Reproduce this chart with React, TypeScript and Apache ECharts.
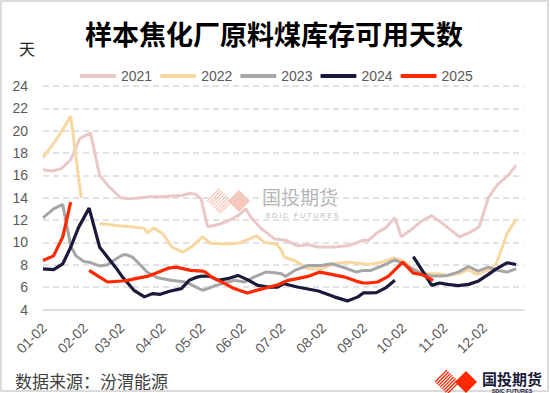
import React, { useEffect, useRef } from 'react';
import * as echarts from 'echarts';

// Month tick labels (day-of-year positions for the 2nd of each month)
const monthLabels = ['01-02', '02-02', '03-02', '04-02', '05-02', '06-02', '07-02', '08-02', '09-02', '10-02', '11-02', '12-02'];
const monthTickDays = [1, 32, 60, 91, 121, 152, 182, 213, 244, 274, 305, 335];

const seriesNames = ['2021', '2022', '2023', '2024', '2025'];

const days2021 = [0, 7, 14, 21, 28, 36, 43, 50, 59, 66, 74, 82, 90, 98, 105, 112, 116, 120, 125, 133, 140, 148, 154, 158, 166, 176, 184, 193, 201, 209, 221, 231, 239, 243, 247, 254, 260, 267, 272, 280, 287, 295, 301, 307, 316, 324, 331, 338, 345, 353, 359];
const vals2021 = [16.5, 16.4, 16.6, 17.4, 19.3, 19.8, 16.0, 15.0, 14.0, 13.9, 14.0, 14.1, 14.1, 14.15, 14.2, 14.4, 14.3, 13.9, 11.4, 11.6, 11.9, 12.4, 13.0, 12.2, 11.2, 10.3, 10.2, 9.7, 9.8, 9.6, 9.6, 9.7, 10.0, 10.2, 10.2, 10.9, 11.3, 12.2, 10.5, 11.2, 11.9, 12.4, 11.9, 11.35, 10.5, 10.9, 11.4, 14.0, 15.2, 16.0, 16.9];

const days2022 = [0, 7, 14, 21, 29, 36, 43, 50, 57, 67, 77, 79, 84, 91, 98, 106, 114, 121, 127, 138, 148, 155, 162, 168, 177, 181, 183, 191, 201, 211, 221, 231, 243, 247, 257, 266, 272, 281, 290, 300, 307, 315, 323, 329, 338, 344, 352, 359];
const vals2022 = [17.6, 18.7, 19.9, 21.3, 14.0, null, 11.7, 11.6, 11.5, 11.4, 11.26, 10.84, 11.29, 10.76, 9.57, 9.13, 9.72, 10.5, 9.93, 9.87, 9.93, 10.22, 10.6, 10.0, 9.87, 9.27, 8.68, 8.38, 7.64, 7.64, 8.09, 8.24, 8.09, 8.03, 8.24, 8.62, 8.44, 7.64, 7.2, 7.2, 7.05, 7.2, 7.56, 7.14, 7.5, 8.09, 10.76, 12.09];

const days2023 = [0, 8, 15, 21, 25, 31, 36, 43, 49, 55, 60, 63, 68, 73, 79, 87, 97, 108, 115, 121, 125, 131, 138, 145, 153, 160, 169, 176, 181, 184, 191, 201, 211, 219, 229, 238, 243, 249, 259, 267, 276, 286, 295, 302, 307, 315, 323, 330, 338, 345, 352, 359];
const vals2023 = [12.2, 13.0, 13.4, 9.7, 8.8, 8.3, 8.2, 7.9, 8.0, 8.5, 8.85, 8.92, 8.68, 8.09, 7.35, 6.84, 6.61, 6.46, 6.07, 5.72, 5.87, 6.16, 6.37, 6.61, 6.46, 6.9, 7.35, 7.29, 7.2, 6.96, 7.5, 7.94, 7.94, 8.09, 7.73, 7.35, 7.5, 7.5, 8.0, 8.44, 7.94, 7.26, 6.99, 7.0, 7.05, 7.35, 7.85, 7.44, 7.79, 7.5, 7.35, 7.64];

const days2024 = [0, 8, 15, 21, 27, 35, 43, 49, 55, 60, 69, 77, 83, 89, 96, 105, 111, 117, 121, 127, 133, 140, 148, 155, 163, 171, 178, 183, 193, 209, 221, 231, 239, 243, 247, 253, 260, 267, 274, 281, 287, 295, 301, 307, 315, 323, 330, 338, 344, 352, 359];
const vals2024 = [7.64, 7.56, 8.09, 9.57, 11.35, 13.07, 9.57, 8.68, 7.79, 6.96, 5.72, 5.13, 5.42, 5.36, 5.63, 5.87, 6.61, 6.9, 7.0, 6.96, 6.61, 6.76, 7.05, 6.67, 6.16, 6.01, 6.01, 6.31, 6.01, 5.66, 5.13, 4.77, 5.13, 5.48, 5.48, 5.51, 5.93, 6.61, null, 8.74, 7.64, 6.16, 6.37, 6.25, 6.13, 6.25, 6.52, 7.14, 7.64, 8.18, 8.03];

const days2025 = [0, 8, 15, 21, 28, 35, 43, 49, 60, 64, 72, 79, 86, 95, 101, 107, 112, 121, 123, 128, 138, 145, 155, 164, 172, 178, 186, 193, 201, 210, 219, 229, 238, 243, 247, 254, 262, 273, 281, 288, 296];
const vals2025 = [8.39, 8.8, 10.5, 13.6, null, 7.5, 6.9, 6.46, 6.55, 6.61, 6.81, 6.96, 7.26, 7.7, 7.79, 7.64, 7.5, 7.44, 7.35, 6.9, 6.31, 5.87, 5.48, 5.78, 6.01, 6.2, 6.61, 6.76, 6.96, 7.35, 7.14, 6.9, 6.52, 6.37, 6.37, 6.46, 6.96, 8.24, 7.26, 7.11, 6.61];

const seriesDays = [days2021, days2022, days2023, days2024, days2025];
const seriesVals = [vals2021, vals2022, vals2023, vals2024, vals2025];
const seriesColors = ['#EBC8C8', '#F8D8A0', '#A6A6A6', '#1A1A3A', '#FF2800'];

const CJK = '"Noto Sans CJK SC", "Noto Sans", sans-serif';
const NUM = '"Liberation Sans", "Noto Sans CJK SC", sans-serif';

function pairs(days: number[], vals: (number | null)[]) {
  return days.map((d, i) => [d, vals[i] === null ? '-' : vals[i]]);
}

function logoElements(cx1: number, cy: number, r1: number, cx2: number, r2: number, color: string, opacity: number, stripes: number) {
  const els: any[] = [];
  for (let i = 0; i <= stripes; i++) {
    const t = i / stripes;
    const sx = cx1 - r1 + t * r1;
    const sy = cy + t * r1;
    els.push({
      type: 'line',
      silent: true,
      shape: { x1: sx, y1: sy, x2: sx + r1, y2: sy - r1 },
      style: { stroke: color, lineWidth: 1.3, opacity },
    });
  }
  els.push({
    type: 'polygon',
    silent: true,
    shape: { points: [[cx2, cy - r2], [cx2 + r2, cy], [cx2, cy + r2], [cx2 - r2, cy]] },
    style: { fill: color, opacity },
  });
  return els;
}

export default function App() {
  const ref = useRef<HTMLDivElement>(null);

  useEffect(() => {
    if (!ref.current) return;
    const chart = echarts.init(ref.current, undefined, { renderer: 'svg' });

    const graphics: any[] = [
      {
        type: 'rect',
        silent: true,
        shape: { x: 1, y: 1, width: 547, height: 390 },
        style: { fill: 'none', stroke: '#D0D0D0', lineWidth: 1.5 },
      },
      {
        type: 'text',
        x: 274,
        y: 33,
        style: {
          text: '样本焦化厂原料煤库存可用天数',
          fontSize: 27,
          fontWeight: 'bold',
          fontFamily: CJK,
          fill: '#000000',
          textAlign: 'center',
          textVerticalAlign: 'middle',
        },
      },
      {
        type: 'text',
        x: 27,
        y: 48,
        style: {
          text: '天',
          fontSize: 16,
          fontFamily: CJK,
          fill: '#262626',
          textAlign: 'center',
          textVerticalAlign: 'middle',
        },
      },
      {
        type: 'text',
        x: 15,
        y: 380,
        style: {
          text: '数据来源：汾渭能源',
          fontSize: 17,
          fontFamily: CJK,
          fill: '#404040',
          textAlign: 'left',
          textVerticalAlign: 'middle',
        },
      },
      // watermark
      ...logoElements(219.5, 201, 12.5, 239, 11, '#F4B4A6', 0.75, 7),
      {
        type: 'text',
        x: 300,
        y: 196,
        silent: true,
        style: {
          text: '国投期货',
          fontSize: 19,
          fontFamily: CJK,
          fill: '#A0A0A0',
          opacity: 0.8,
          textAlign: 'center',
          textVerticalAlign: 'middle',
        },
      },
      {
        type: 'text',
        x: 302,
        y: 215,
        silent: true,
        style: {
          text: 'S D I C   F U T U R E S',
          fontSize: 7,
          fontFamily: NUM,
          fill: '#A0A0A0',
          opacity: 0.8,
          textAlign: 'center',
          textVerticalAlign: 'middle',
        },
      },
      // bottom-right logo
      ...logoElements(447, 382, 12, 466, 11, '#FF2800', 1, 7),
      {
        type: 'text',
        x: 512,
        y: 378,
        style: {
          text: '国投期货',
          fontSize: 15,
          fontWeight: 'bold',
          fontFamily: CJK,
          fill: '#1A1A3A',
          textAlign: 'center',
          textVerticalAlign: 'middle',
        },
      },
      {
        type: 'text',
        x: 512,
        y: 390.5,
        style: {
          text: 'SDIC FUTURES',
          fontSize: 5.5,
          fontWeight: 'bold',
          fontFamily: NUM,
          fill: '#1A1A3A',
          textAlign: 'center',
          textVerticalAlign: 'middle',
        },
      },
    ];

    chart.setOption({
      animation: false,
      backgroundColor: '#ffffff',
      grid: { left: 43, right: 26, top: 86, bottom: 83.5, containLabel: false },
      legend: {
        data: seriesNames,
        left: 75,
        top: 64,
        icon: 'roundRect',
        itemWidth: 36,
        itemHeight: 4,
        itemGap: 8,
        textStyle: { fontSize: 14, color: '#595959', fontFamily: NUM },
      },
      xAxis: {
        type: 'value',
        min: 0,
        max: 365,
        splitLine: { show: false },
        axisTick: { show: false },
        axisLine: { show: true, lineStyle: { color: '#D9D9D9', width: 1.5 } },
        axisLabel: {
          customValues: monthTickDays,
          formatter: (v: number) => {
            const idx = monthTickDays.indexOf(Math.round(v));
            return idx >= 0 ? monthLabels[idx] : '';
          },
          rotate: 45,
          margin: 16,
          fontSize: 14,
          color: '#595959',
          fontFamily: NUM,
        },
      },
      yAxis: {
        type: 'value',
        min: 4,
        max: 24,
        interval: 2,
        axisLine: { show: false },
        axisTick: { show: false },
        axisLabel: { fontSize: 14, color: '#595959', margin: 15, fontFamily: NUM },
        splitLine: { show: true, lineStyle: { color: '#D9D9D9', width: 1.5, type: [6, 4] } },
      },
      series: seriesNames.map((name, i) => ({
        name,
        type: 'line',
        data: pairs(seriesDays[i], seriesVals[i]),
        showSymbol: false,
        symbol: 'none',
        connectNulls: false,
        smooth: false,
        color: seriesColors[i],
        lineStyle: { color: seriesColors[i], width: i >= 3 ? 3.2 : 3 },
        z: 2 + i,
      })),
      graphic: graphics,
    });

    return () => chart.dispose();
  }, []);

  return (
    <div
      ref={ref}
      style={{ position: 'fixed', left: 0, top: 0, width: 550, height: 393, background: '#fff' }}
    />
  );
}
